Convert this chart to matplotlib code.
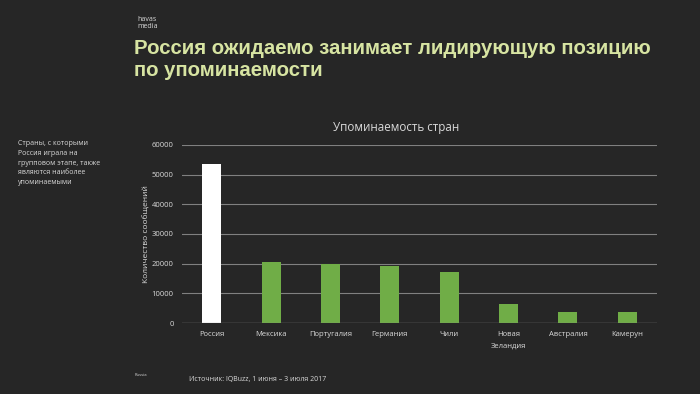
import matplotlib
matplotlib.use("Agg")
import matplotlib.pyplot as plt

categories = ["Россия", "Мексика", "Португалия", "Германия", "Чили",
              "Новая\nЗеландия", "Австралия", "Камерун"]
values = [53600, 20700, 19800, 19300, 17100, 6400, 3600, 3600]
yticks = [0, 10000, 20000, 30000, 40000, 50000, 60000]

BG = "#262626"
GREEN = "#70AD47"
TXT = "#D9D9D9"
TITLE = "#D7E4A2"

plt.rcParams['font.family'] = ['Open Sans', 'DejaVu Sans']

fig = plt.figure(figsize=(7, 3.94), dpi=100, facecolor=BG)
ax = fig.add_axes([182/700, 1-323/394, (657-182)/700, (323-145)/394])
ax.set_facecolor(BG)

colors = ["white"] + [GREEN] * (len(values) - 1)
x = range(len(categories))
ax.bar(x, values, width=0.32, color=colors, zorder=3)
ax.set_xlim(-0.5, len(categories) - 0.5)
ax.set_ylim(0, 60000)
ax.set_yticks(yticks)
ax.set_yticklabels([str(v) for v in yticks], fontsize=5.5, color=TXT)
ax.set_xticks(list(x))
ax.set_xticklabels(categories, fontsize=5.5, color=TXT, linespacing=1.8)
ax.tick_params(axis='both', length=0, pad=6)
ax.yaxis.grid(True, color="#808080", linewidth=0.8, zorder=0)
for s in ax.spines.values():
    s.set_visible(False)
ax.axhline(0, color="#8C8C8C", linewidth=0.9, zorder=4)
ax.set_ylabel("Количество сообщений", fontsize=6, color=TXT)
ax.yaxis.set_label_coords(-0.066, 0.5)

fig.text(396/700, 1-128/394, "Упоминаемость стран", ha="center", va="center",
         fontsize=8.4, color=TXT)

fig.text(134/700, 1-49/394, "Россия ожидаемо занимает лидирующую позицию",
         fontsize=14.7, fontweight="bold", color=TITLE, ha="left", va="center",
         family=['Liberation Sans', 'DejaVu Sans'])
fig.text(134/700, 1-71/394, "по упоминаемости",
         fontsize=14.7, fontweight="bold", color=TITLE, ha="left", va="center",
         family=['Liberation Sans', 'DejaVu Sans'])
fig.text(137/700, 1-23/394, "havas\nmedia", fontsize=5, color=TXT,
         ha="left", va="center", linespacing=0.9)

fig.text(18/700, 1-163/394,
         "Страны, с которыми\nРоссия играла на\nгрупповом этапе, также\nявляются наиболее\nупоминаемыми",
         fontsize=5, color=TXT, ha="left", va="center", linespacing=1.55)

fig.text(135/700, 1-375/394, "Russia", fontsize=3, color=TXT, ha="left", va="center")
fig.text(189/700, 1-380/394, "Источник: IQBuzz, 1 июня – 3 июля 2017",
         fontsize=5, color=TXT, ha="left", va="center")

fig.savefig("out.png", dpi=100, facecolor=BG)
